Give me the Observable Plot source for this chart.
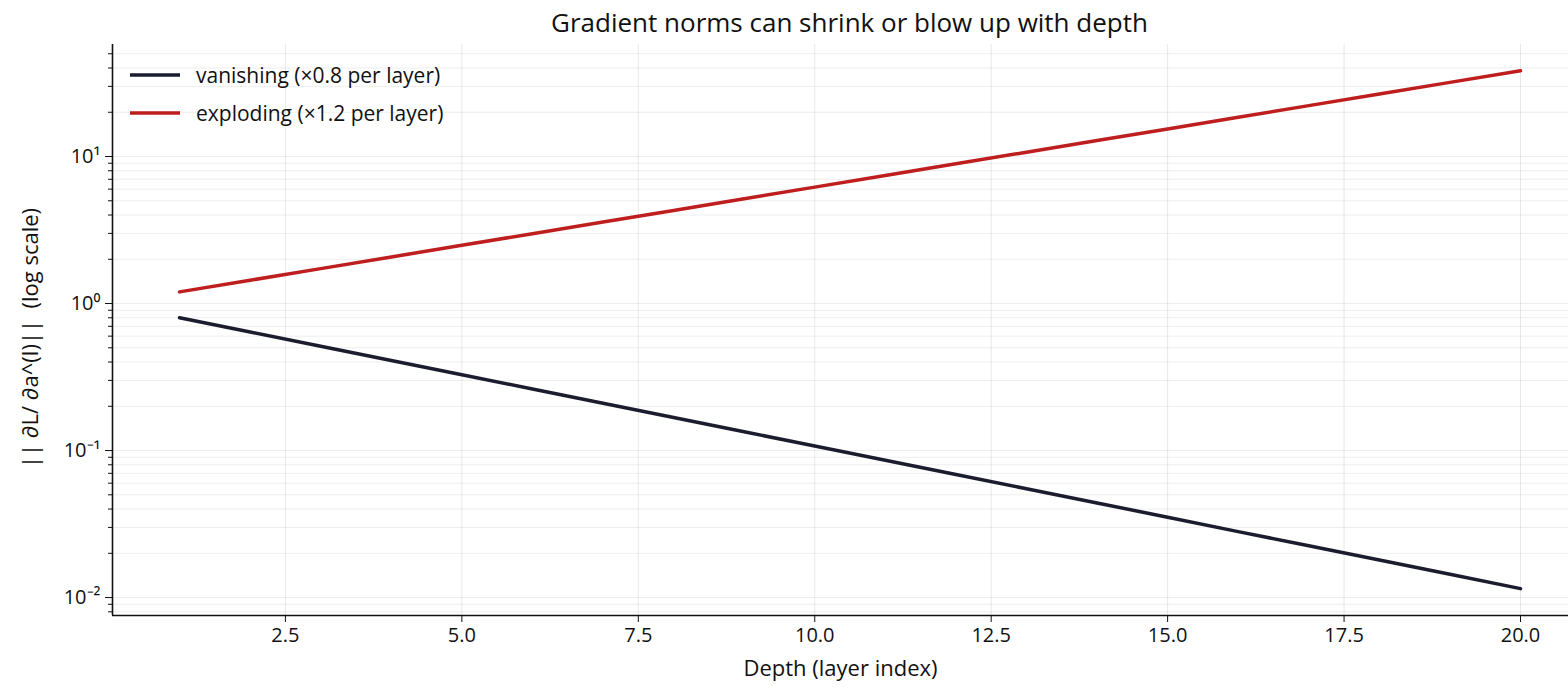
<!DOCTYPE html>
<html><head><meta charset="utf-8">
<script src="https://cdn.jsdelivr.net/npm/d3@7"></script>
<script src="https://cdn.jsdelivr.net/npm/@observablehq/plot@0.6"></script>
<style>
body{margin:0;background:#fff;}
#wrap{position:relative;width:1568px;height:688px;font-family:"Open Sans", sans-serif;color:#111;}
#title{position:absolute;left:112px;width:1475px;top:4px;text-align:center;font-size:26px;line-height:36px;}
#legend{position:absolute;left:130px;top:56px;font-size:21px;}
#legend .row{display:flex;align-items:center;height:38px;}
#legend svg{margin-right:16px;}
#chart{position:absolute;left:0;top:0;}
</style></head>
<body>
<div id="wrap">
<div id="chart"></div>
<div id="title">Gradient norms can shrink or blow up with depth</div>
<div id="legend"></div>
</div>
<script>
const layers = [1,2,3,4,5,6,7,8,9,10,11,12,13,14,15,16,17,18,19,20];
const vanishing = [0.8,0.64,0.512,0.4096,0.3277,0.2621,0.2097,0.1678,0.1342,0.1074,0.0859,0.0687,0.0550,0.0440,0.0352,0.0281,0.0225,0.0180,0.0144,0.0115];
const exploding = [1.2,1.44,1.728,2.0736,2.4883,2.986,3.5832,4.2998,5.1598,6.1917,7.4301,8.9161,10.6993,12.8392,15.407,18.4884,22.1861,26.6233,31.948,38.3376];
const seriesNames = ["vanishing (×0.8 per layer)", "exploding (×1.2 per layer)"];
const seriesColors = ["#1a1d2e", "#bf1e1e"];
const xTicks = [2.5,5,7.5,10,12.5,15,17.5,20];
const yMajor = [0.01,0.1,1,10];
const yMajorLabels = ["10⁻²","10⁻¹","10⁰","10¹"];
const yMinor = [0.008,0.009,0.02,0.03,0.04,0.05,0.06,0.07,0.08,0.09,0.2,0.3,0.4,0.5,0.6,0.7,0.8,0.9,2,3,4,5,6,7,8,9,20,30,40,50];
const xDomain = [0.05, 20.68];
const yDomain = [0.00755, 57.8];

const data = [];
layers.forEach((l,i)=>{ data.push({layer:l, value:vanishing[i], series:seriesNames[0]}); });
layers.forEach((l,i)=>{ data.push({layer:l, value:exploding[i], series:seriesNames[1]}); });

const chart = Plot.plot({
  width:1568, height:688,
  marginTop:44, marginBottom:73, marginLeft:112, marginRight:0,
  style:{fontFamily:"'Open Sans', sans-serif", fontSize:"20px", color:"#111", background:"#fff"},
  x:{domain:xDomain},
  y:{type:"log", domain:yDomain},
  color:{domain:seriesNames, range:seriesColors},
  marks:[
    Plot.gridX(xTicks, {stroke:"#000", strokeOpacity:0.09}),
    Plot.gridY(yMajor.concat(yMinor), {stroke:"#000", strokeOpacity:0.07}),
    Plot.axisX({ticks:xTicks, tickFormat:d3.format(".1f"), tickSize:7, tickPadding:5, label:null}),
    Plot.axisY({ticks:yMajor, tickFormat:(d)=>yMajorLabels[yMajor.indexOf(d)], tickSize:7, tickPadding:5, label:null}),
    Plot.axisY({ticks:yMinor, tickFormat:()=>"", tickSize:4, label:null}),
    Plot.ruleX([xDomain[0]], {stroke:"#111", strokeWidth:1.6}),
    Plot.ruleY([yDomain[0]], {stroke:"#111", strokeWidth:1.6}),
    Plot.line(data, {x:"layer", y:"value", stroke:"series", z:"series", strokeWidth:3.5}),
    Plot.text(["Depth (layer index)"], {frameAnchor:"bottom", dy:60, fontSize:22, fill:"#111"}),
    Plot.text(["|| ∂L/ ∂a^(l)||  (log scale)"], {frameAnchor:"left", textAnchor:"middle", dx:-82, dy:8, rotate:-90, fontSize:22, fill:"#111"})
  ]
});
document.getElementById("chart").appendChild(chart);

const legend = document.getElementById("legend");
seriesNames.forEach((n,i)=>{
  const row = document.createElement("div"); row.className="row";
  row.innerHTML = `<svg width="50" height="6"><line x1="0" x2="50" y1="3" y2="3" stroke="${seriesColors[i]}" stroke-width="3.5"/></svg><span>${n}</span>`;
  legend.appendChild(row);
});
</script>
</body></html>
